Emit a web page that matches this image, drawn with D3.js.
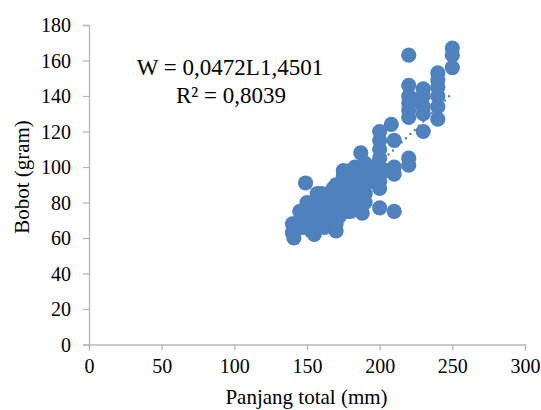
<!DOCTYPE html>
<meta charset="utf-8">
<style>
body { margin: 0; background: #fff; }
text { font-family: "Liberation Serif", "Times New Roman", serif; }
</style>
<script src="https://d3js.org/d3.v7.min.js"></script>
<div id="chart"></div>
<script>
// data: total length (mm) and weight (gram)
var panjang = [140,140,141,142,145,145,147,149,150,150,150,152,153,155,155,155,157,158,160,160,160,160,162,163,165,165,165,167,168,170,170,170,170,170,170,172,175,175,175,175,175,177,178,180,180,180,180,180,180,182,183,185,185,185,185,185,187,188,190,190,190,190,190,193,195,195,200,200,200,200,200,200,200,200,200,205,208,210,210,210,210,220,220,220,220,220,220,220,220,225,230,230,230,230,230,240,240,240,240,240,240,250,250,250];
var bobot   = [68,63,60,65,70,75,66,91,80,72,68,75,64,62,70,78,85,82,85,80,75,70,66,72,85,80,76,70,88,90,85,80,76,68,64,72,98,95,90,85,80,78,75,98,93,88,84,80,75,95,100,97,92,88,84,78,108,74,102,96,90,85,80,95,100,92,120,115,110,105,100,96,92,88,77,98,124,115,100,96,75,163,146,140,136,132,128,105,101,138,144,140,134,130,120,153,149,145,140,134,127,167,163,156];
var xTicks = [0,50,100,150,200,250,300];
var yTicks = [0,20,40,60,80,100,120,140,160,180];
var coefA = 0.0472, coefB = 1.4501;
var eqText = "W = 0,0472L1,4501";
var r2Text = "R² = 0,8039";

var margin = {top: 25, right: 16, bottom: 65.5, left: 89},
    width = 541 - margin.left - margin.right,
    height = 410 - margin.top - margin.bottom;

var svg = d3.select("#chart")
  .append("svg")
    .attr("width", 541)
    .attr("height", 410)
  .append("g")
    .attr("transform", "translate(" + margin.left + "," + margin.top + ")");

var x = d3.scaleLinear().domain([0, 300]).range([0, width]);
var y = d3.scaleLinear().domain([0, 180]).range([height, 0]);

// X axis
var gx = svg.append("g")
  .attr("transform", "translate(0," + height + ")")
  .call(d3.axisBottom(x).tickValues(xTicks).tickSize(6).tickPadding(8));
// Y axis
var gy = svg.append("g")
  .call(d3.axisLeft(y).tickValues(yTicks).tickSize(6).tickPadding(12));

[gx, gy].forEach(function(g) {
  g.selectAll("path, line").attr("stroke", "#b8b8b8").attr("stroke-width", 1.3);
  g.selectAll("text")
    .style("font-family", "'Liberation Serif', serif")
    .style("font-size", "20px")
    .attr("fill", "#000");
});
gy.selectAll("text").attr("dy", "0.33em");

// axis titles
svg.append("text")
  .attr("x", (225 + 388) / 2 - margin.left)
  .attr("y", 404 - margin.top)
  .style("text-anchor", "middle")
  .style("font-size", "21px")
  .text("Panjang total (mm)");

svg.append("text")
  .attr("transform", "rotate(-90)")
  .attr("x", -(177 - margin.top))
  .attr("y", 29 - margin.left)
  .style("text-anchor", "middle")
  .style("font-size", "21px")
  .text("Bobot (gram)");

// points
var pts = panjang.map(function(d, i) { return {L: d, W: bobot[i]}; });
svg.selectAll("circle.pt")
  .data(pts)
  .enter()
  .append("circle")
    .attr("class", "pt")
    .attr("cx", function(d) { return x(d.L); })
    .attr("cy", function(d) { return y(d.W); })
    .attr("r", 7.6)
    .attr("fill", "#4f81bd");

// power trendline (dotted)
var lmin = d3.min(panjang), lmax = d3.max(panjang);
var trend = d3.range(lmin, lmax + 0.5, 1).map(function(l) { return {L: l, W: coefA * Math.pow(l, coefB)}; });
svg.append("path")
  .datum(trend)
  .attr("fill", "none")
  .attr("stroke", "#4f81bd")
  .attr("stroke-width", 2.5)
  .attr("stroke-linecap", "round")
  .attr("stroke-dasharray", "0,6")
  .attr("d", d3.line().x(function(d) { return x(d.L); }).y(function(d) { return y(d.W); }));

// equation
svg.append("text")
  .attr("x", 230 - margin.left)
  .attr("y", 75 - margin.top)
  .style("text-anchor", "middle")
  .style("font-size", "23px")
  .text(eqText);
svg.append("text")
  .attr("x", 231 - margin.left)
  .attr("y", 103 - margin.top)
  .style("text-anchor", "middle")
  .style("font-size", "23px")
  .text(r2Text);
</script>
